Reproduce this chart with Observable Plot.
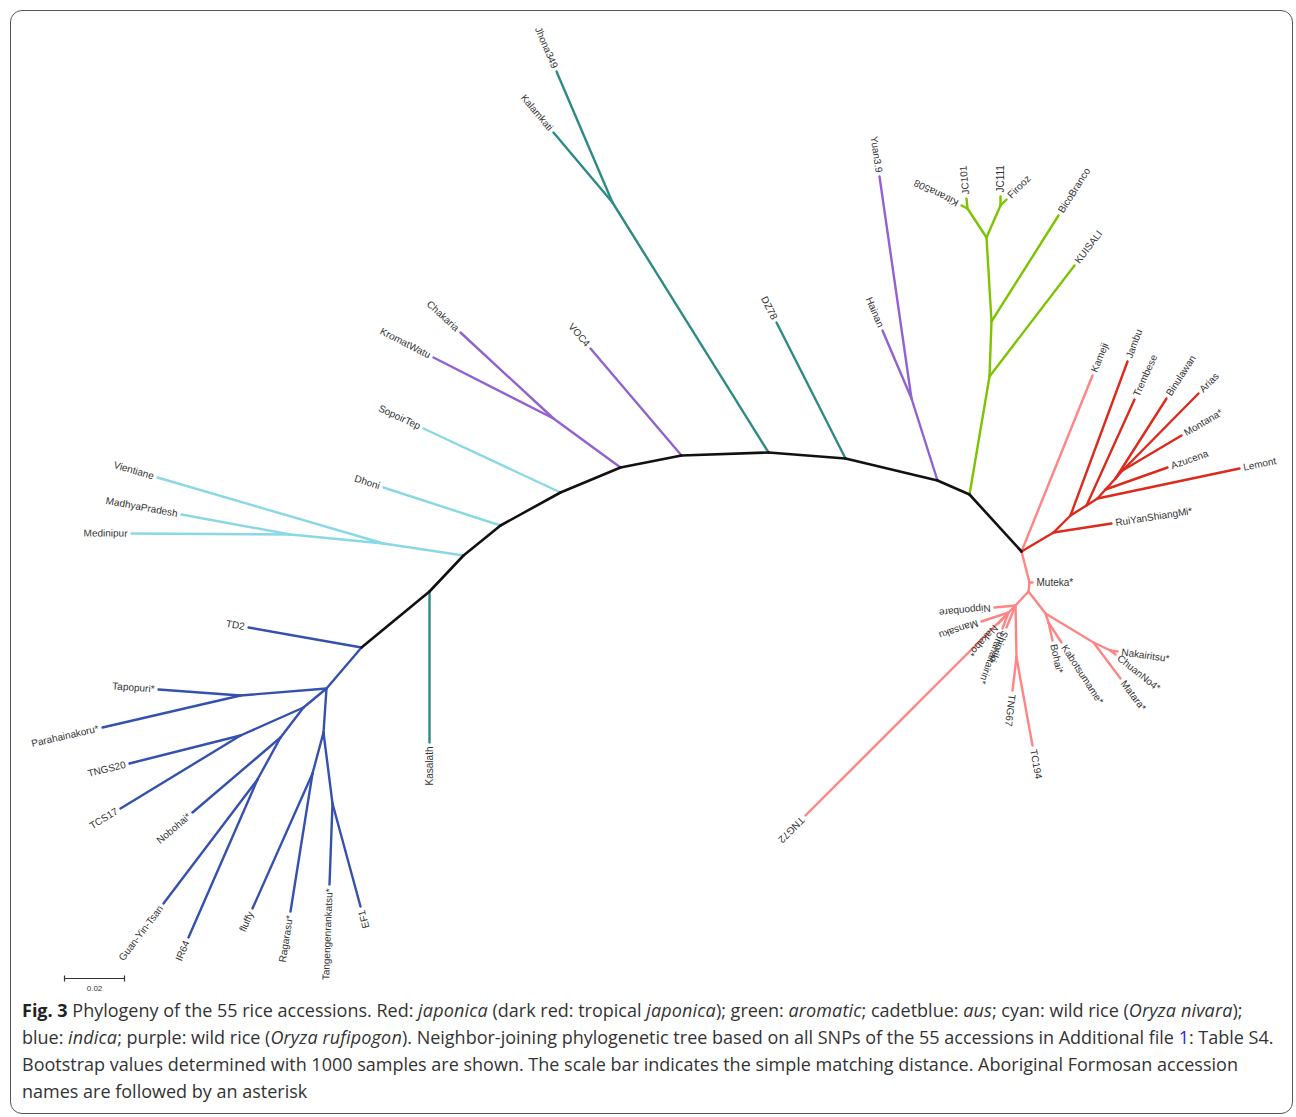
<!DOCTYPE html>
<html>
<head>
<meta charset="utf-8">
<script src="https://cdn.jsdelivr.net/npm/d3@7"></script>
<script src="https://cdn.jsdelivr.net/npm/@observablehq/plot@0.6"></script>
<style>
  body { margin: 0; background: #fff; }
  #wrap { position: relative; width: 1296px; height: 1117px; }
  #frame { position: absolute; left: 10px; top: 10px; width: 1283px; height: 1104px; box-sizing: border-box;
           border: 1.5px solid #555; border-radius: 12px; pointer-events: none; }
  #chart svg { display: block; }
  #caption { margin-top: 2px; padding-left: 22px; font-family: "Open Sans", sans-serif; font-size: 18px;
             line-height: 27px; color: #333; white-space: nowrap; }
  #caption b { font-weight: 700; color: #222; }
  #caption i { letter-spacing: 0.15px; }
  #caption .ref { color: #2626e0; }
</style>
</head>
<body>
<div id="wrap">
  <div id="chart"></div>
  <div id="caption"><b>Fig. 3</b> Phylogeny of the 55 rice accessions. Red: <i>japonica</i> (dark red: tropical <i>japonica</i>); green: <i>aromatic</i>; cadetblue: <i>aus</i>; cyan: wild rice (<i>Oryza nivara</i>);<br>blue: <i>indica</i>; purple: wild rice (<i>Oryza rufipogon</i>). Neighbor-joining phylogenetic tree based on all SNPs of the 55 accessions in Additional file <span class="ref">1</span>: Table S4.<br>Bootstrap values determined with 1000 samples are shown. The scale bar indicates the simple matching distance. Aboriginal Formosan accession<br>names are followed by an asterisk</div>
  <div id="frame"></div>
</div>
<script>
// ---- clades and colours ----
const groupNames  = ["backbone", "japonica", "tropical japonica", "aromatic", "aus", "nivara", "indica", "rufipogon"];
const groupColors = ["#111111", "#ff8585", "#dc2a1c", "#7cc400", "#2e8a86", "#8ad8e6", "#3451ad", "#9162d0"];
// clades whose labels are flipped to read left-to-right
const flippedGroups = ["indica", "aus", "nivara", "rufipogon"];

// ---- tree nodes: [name, parent, layoutX, layoutY] ----
const backboneNodes = [
  ["B11", null, 361, 647], ["B10", "B11", 429, 591], ["B9", "B10", 463, 555], ["B8", "B9", 500, 525],
  ["B7", "B8", 560, 492], ["B6", "B7", 620, 467], ["B5", "B6", 681, 455], ["B4", "B5", 768, 452],
  ["B3", "B4", 845, 458], ["B2", "B3", 937, 480], ["B1", "B2", 969, 494], ["B0", "B1", 1021, 551]
];
const japonicaNodes = [
  ["Kameji", "B0", 1092, 375], ["M", "B0", 1029, 582], ["Muteka*", "M", 1032, 582], ["J1", "M", 1028, 591],
  ["L1", "J1", 1015, 605], ["Nipponbare", "L1", 994, 607], ["Shinriki", "L1", 1006, 627],
  ["L2", "L1", 1008, 612], ["Mansaku", "L2", 981, 621], ["Nakabo*", "L2", 998, 623],
  ["Urahaitairin*", "L2", 1002, 628], ["TNG72", "L2", 805, 815],
  ["T1", "L1", 1016, 657], ["TNG67", "T1", 1012, 690], ["TC194", "T1", 1032, 745],
  ["R1", "J1", 1045, 613], ["R2", "R1", 1048, 622], ["Bohai*", "R2", 1052, 640], ["Kabotsumame*", "R2", 1061, 642],
  ["R3", "R1", 1093, 642], ["R4", "R3", 1110, 650], ["Nakairitsu*", "R4", 1117, 651],
  ["ChuanNo4*", "R4", 1115, 654], ["Matara*", "R3", 1120, 678]
];
const tropicalNodes = [
  ["TJ1", "B0", 1053, 532], ["RuiYanShiangMi*", "TJ1", 1111, 523], ["TJ2", "TJ1", 1070, 515],
  ["Jambu", "TJ2", 1127, 361], ["TJ3", "TJ2", 1086, 505], ["Trembese", "TJ3", 1134, 399],
  ["TJ4", "TJ3", 1097, 498], ["Lemont", "TJ4", 1239, 468], ["TJ5", "TJ4", 1105, 489],
  ["Azucena", "TJ5", 1167, 467], ["TJ6", "TJ5", 1115, 478], ["Binulawan", "TJ6", 1166, 398],
  ["TJ7", "TJ6", 1122, 470], ["Montana*", "TJ7", 1181, 435], ["Arias", "TJ7", 1198, 393]
];
const aromaticNodes = [
  ["G2", "B1", 989, 376], ["KUISALI", "G2", 1074, 265], ["G1", "G2", 991, 321], ["BicoBranco", "G1", 1058, 215],
  ["Gab", "G1", 986, 237], ["Ga", "Gab", 967, 208], ["Kitrana508", "Ga", 961, 205], ["JC101", "Ga", 966, 198],
  ["Gb", "Gab", 1000, 205], ["JC111", "Gb", 1000, 196], ["Firooz", "Gb", 1006, 199]
];
const rufipogonNodes = [
  ["P1", "B2", 911, 398], ["Yuan3.9", "P1", 879, 176], ["Hainan", "P1", 882, 330],
  ["P2", "B6", 553, 418], ["Chakaria", "P2", 460, 332], ["KromatWatu", "P2", 433, 357], ["VOC4", "B5", 590, 348]
];
const ausNodes = [
  ["DZ78", "B3", 776, 322], ["K1", "B4", 612, 202], ["Jhona349", "K1", 556, 71], ["Kalamkati", "K1", 553, 132],
  ["Kasalath", "B10", 429, 742]
];
const nivaraNodes = [
  ["SopoirTep", "B7", 423, 428], ["Dhoni", "B8", 383, 487], ["C1", "B9", 383, 543], ["Vientiane", "C1", 157, 477],
  ["C2", "C1", 290, 534], ["MadhyaPradesh", "C2", 181, 514], ["Medinipur", "C2", 131, 533]
];
const indicaNodes = [
  ["TD2", "B11", 248, 627], ["I1", "B11", 326, 688], ["Ia", "I1", 240, 695], ["Tapopuri*", "Ia", 158, 689],
  ["Parahainakoru*", "Ia", 102, 727], ["I2", "I1", 303, 707], ["Ib", "I2", 240, 735], ["TNGS20", "Ib", 129, 763],
  ["TCS17", "Ib", 120, 808], ["I4", "I2", 280, 737], ["Nobohai*", "I4", 192, 812], ["I5", "I4", 257, 779],
  ["Guan-Yin-Tsan", "I5", 163, 903], ["IR64", "I5", 188, 937], ["I3", "I1", 323, 732], ["I6", "I3", 312, 773],
  ["fluffy", "I6", 252, 908], ["Ragarasu*", "I6", 290, 911], ["I7", "I3", 332, 803],
  ["Tangengenrankatsu*", "I7", 329, 884], ["EF1", "I7", 360, 906]
];

// scale bar: 0.02 simple-matching distance; layout units per distance unit
const scaleBarValue = 0.02;
const layoutPerDistance = 3000;
const scaleBarOrigin = [64, 978];

// ---- build tables ----
const W = 1296, H = 995;
const sets = [
  [backboneNodes, "backbone"], [japonicaNodes, "japonica"], [tropicalNodes, "tropical japonica"],
  [aromaticNodes, "aromatic"], [rufipogonNodes, "rufipogon"], [ausNodes, "aus"],
  [nivaraNodes, "nivara"], [indicaNodes, "indica"]
];
const nodes = sets.flatMap(([rows, group]) => rows.map(([name, parent, x, y]) => ({name, parent, x, y, group})));
const byName = new Map(nodes.map(d => [d.name, d]));
const hasChild = new Set(nodes.map(d => d.parent).filter(p => p));

const edges = nodes.filter(d => d.parent).map(d => {
  const p = byName.get(d.parent);
  return {x1: p.x, y1: p.y, x2: d.x, y2: d.y, group: d.group};
});

const gap = 4;
const leaves = nodes.filter(d => !hasChild.has(d.name)).map(d => {
  const p = byName.get(d.parent);
  const a = Math.atan2(d.y - p.y, d.x - p.x);
  const deg = a * 180 / Math.PI;
  const flipped = flippedGroups.includes(d.group);
  return {
    name: d.name,
    lx: d.x + gap * Math.cos(a),
    ly: d.y + gap * Math.sin(a),
    rot: flipped ? deg + 180 : deg,
    flipped
  };
});

const sbLen = scaleBarValue * layoutPerDistance;
const sbX0 = scaleBarOrigin[0], sbY = scaleBarOrigin[1];
const scaleLines = [
  {x1: sbX0, y1: sbY, x2: sbX0 + sbLen, y2: sbY},
  {x1: sbX0, y1: sbY - 3, x2: sbX0, y2: sbY + 3},
  {x1: sbX0 + sbLen, y1: sbY - 3, x2: sbX0 + sbLen, y2: sbY + 3}
];
const scaleLabel = [{x: sbX0 + sbLen / 2, y: sbY + 10, text: String(scaleBarValue)}];

const labelFont = "'Liberation Sans', Arial, Helvetica, sans-serif";
const colored = edges.filter(e => e.group !== "backbone");
const black = edges.filter(e => e.group === "backbone");

const chart = Plot.plot({
  width: W,
  height: H,
  margin: 0,
  x: {domain: [0, W], range: [0, W], axis: null},
  y: {domain: [0, H], range: [0, H], axis: null},
  color: {domain: groupNames, range: groupColors},
  marks: [
    Plot.link(colored, {x1: "x1", y1: "y1", x2: "x2", y2: "y2", stroke: "group", strokeWidth: 2.4, strokeLinecap: "round"}),
    Plot.link(black, {x1: "x1", y1: "y1", x2: "x2", y2: "y2", stroke: "group", strokeWidth: 2.6, strokeLinecap: "round"}),
    Plot.text(leaves.filter(d => !d.flipped), {x: "lx", y: "ly", text: "name", rotate: "rot", textAnchor: "start",
      fontSize: 10, fill: "#333", fontFamily: labelFont}),
    Plot.text(leaves.filter(d => d.flipped), {x: "lx", y: "ly", text: "name", rotate: "rot", textAnchor: "end",
      fontSize: 10, fill: "#333", fontFamily: labelFont}),
    Plot.link(scaleLines, {x1: "x1", y1: "y1", x2: "x2", y2: "y2", stroke: "#333", strokeWidth: 1.2}),
    Plot.text(scaleLabel, {x: "x", y: "y", text: "text", fontSize: 8, fill: "#333", fontFamily: labelFont})
  ]
});
document.getElementById("chart").appendChild(chart);
</script>
</body>
</html>
